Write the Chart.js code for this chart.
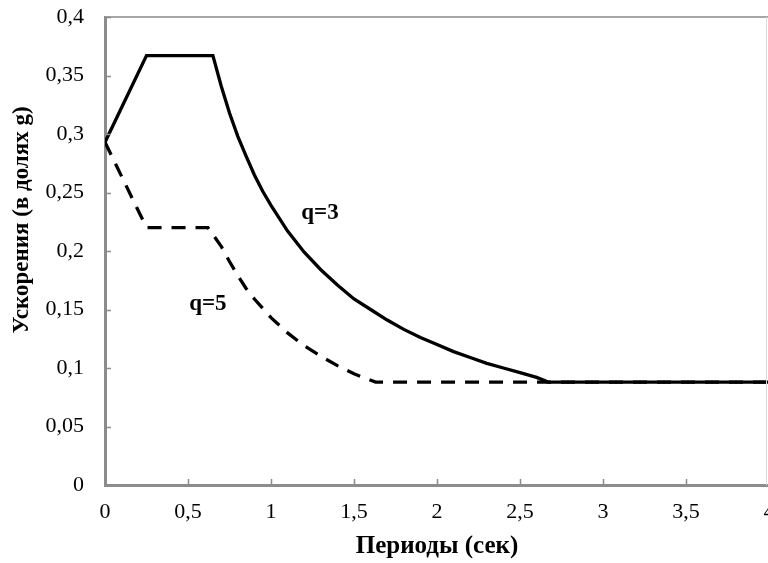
<!DOCTYPE html>
<html>
<head>
<meta charset="utf-8">
<script src="https://cdn.jsdelivr.net/npm/chart.js@4"></script>
<style>
    html, body { margin: 0; padding: 0; background: #fff; overflow: hidden; }
    #wrap { width: 769px; height: 563px; }
</style>
</head>
<body>
<div id="wrap"><canvas id="grafico"></canvas></div>
<script>
// Периоды (сек) и ускорения
const periodosQ3 = [0, 0.25, 0.65, 0.7, 0.75, 0.8, 0.85, 0.9, 0.95, 1.0, 1.1, 1.2, 1.3, 1.4, 1.5, 1.6, 1.7, 1.8, 1.9, 2.0, 2.1, 2.2, 2.3, 2.4, 2.5, 2.6, 2.67, 4];
const aceleracaoQ3 = [0.293, 0.367, 0.367, 0.341, 0.318, 0.298, 0.281, 0.265, 0.251, 0.239, 0.217, 0.199, 0.184, 0.171, 0.159, 0.150, 0.141, 0.133, 0.126, 0.120, 0.114, 0.109, 0.104, 0.100, 0.096, 0.092, 0.088, 0.088];

const periodosQ5 = [0, 0.25, 0.62, 0.7, 0.75, 0.8, 0.85, 0.9, 0.95, 1.0, 1.1, 1.2, 1.3, 1.4, 1.5, 1.63, 4];
const aceleracaoQ5 = [0.293, 0.220, 0.220, 0.204, 0.191, 0.179, 0.168, 0.159, 0.151, 0.143, 0.130, 0.119, 0.110, 0.102, 0.095, 0.088, 0.088];

const xTickLabels = ['0', '0,5', '1', '1,5', '2', '2,5', '3', '3,5', '4'];
const yTickLabels = ['0', '0,05', '0,1', '0,15', '0,2', '0,25', '0,3', '0,35', '0,4'];

const rotulos = [
    { texto: 'q=3', x: 1.295, y: 0.232 },
    { texto: 'q=5', x: 0.62, y: 0.155 }
];

const fonteTexto = '"Liberation Serif", "Times New Roman", serif';
const corEixo = '#8c8c8c';

// Рамка, внутренние засечки, подписи кривых и подпись оси Y
const plugModura = {
    id: 'moldura',
    afterDatasetsDraw(chart) {
        const { ctx, chartArea: a, scales } = chart;
        ctx.save();
        // верхняя и правая граница
        ctx.strokeStyle = '#a6a6a6';
        ctx.lineWidth = 2;
        ctx.beginPath();
        ctx.moveTo(a.left, a.top);
        ctx.lineTo(a.right, a.top);
        ctx.stroke();
        ctx.strokeStyle = '#d9d9d9';
        ctx.lineWidth = 1;
        ctx.beginPath();
        ctx.moveTo(a.right - 2.5, a.top);
        ctx.lineTo(a.right - 2.5, a.bottom);
        ctx.stroke();

        // засечки внутрь
        ctx.strokeStyle = corEixo;
        ctx.lineWidth = 1.5;
        ctx.beginPath();
        scales.x.ticks.forEach((t) => {
            const px = Math.round(scales.x.getPixelForValue(t.value)) + 0.5;
            ctx.moveTo(px, a.bottom);
            ctx.lineTo(px, a.bottom - 6);
        });
        scales.y.ticks.forEach((t) => {
            const py = Math.round(scales.y.getPixelForValue(t.value)) + 0.5;
            ctx.moveTo(a.left, py);
            ctx.lineTo(a.left + 6, py);
        });
        ctx.stroke();

        // q=3 / q=5
        ctx.fillStyle = '#000';
        ctx.font = 'bold 23px ' + fonteTexto;
        ctx.textAlign = 'center';
        ctx.textBaseline = 'middle';
        rotulos.forEach((r) => {
            ctx.fillText(r.texto, scales.x.getPixelForValue(r.x), scales.y.getPixelForValue(r.y));
        });

        // подпись оси Y (в оригинале смещена вверх от центра)
        ctx.translate(22, 220);
        ctx.rotate(-Math.PI / 2);
        ctx.font = 'bold 23px ' + fonteTexto;
        ctx.fillText('Ускорения (в долях g)', 0, 0);
        ctx.restore();
    }
};

const ctx = document.getElementById('grafico').getContext('2d');
new Chart(ctx, {
    type: 'line',
    data: {
        datasets: [
            {
                label: 'q=3',
                data: periodosQ3.map((t, i) => ({ x: t, y: aceleracaoQ3[i] })),
                borderColor: '#000',
                borderWidth: 3.3,
                pointRadius: 0,
                tension: 0,
                fill: false
            },
            {
                label: 'q=5',
                data: periodosQ5.map((t, i) => ({ x: t, y: aceleracaoQ5[i] })),
                borderColor: '#000',
                borderWidth: 3.3,
                borderDash: [14, 10],
                pointRadius: 0,
                tension: 0,
                fill: false
            }
        ]
    },
    options: {
        responsive: true,
        maintainAspectRatio: false,
        animation: false,
        layout: { padding: 0 },
        plugins: {
            legend: { display: false },
            tooltip: { enabled: false }
        },
        scales: {
            x: {
                type: 'linear',
                min: 0,
                max: 4,
                ticks: {
                    stepSize: 0.5,
                    color: '#000',
                    padding: 14,
                    maxRotation: 0,
                    font: { family: fonteTexto, size: 22 },
                    callback: (v, i) => xTickLabels[i]
                },
                grid: { display: false, drawTicks: false },
                border: { display: true, color: corEixo, width: 3 },
                title: {
                    display: true,
                    text: 'Периоды (сек)',
                    color: '#000',
                    font: { family: fonteTexto, size: 25, weight: 'bold' },
                    padding: { top: 4, bottom: 1 }
                },
                afterFit: (scale) => {
                    scale.height = 78;
                    scale.paddingLeft = 0;
                    scale.paddingRight = 0;
                }
            },
            y: {
                min: 0,
                max: 0.4,
                ticks: {
                    stepSize: 0.05,
                    color: '#000',
                    padding: 21,
                    font: { family: fonteTexto, size: 22 },
                    callback: (v, i) => yTickLabels[i]
                },
                grid: { display: false, drawTicks: false },
                border: { display: true, color: corEixo, width: 3 },
                title: { display: false },
                afterFit: (scale) => {
                    scale.width = 105;
                    scale.paddingTop = 17;
                    scale.paddingBottom = 0;
                }
            }
        }
    },
    plugins: [plugModura]
});
</script>
</body>
</html>
